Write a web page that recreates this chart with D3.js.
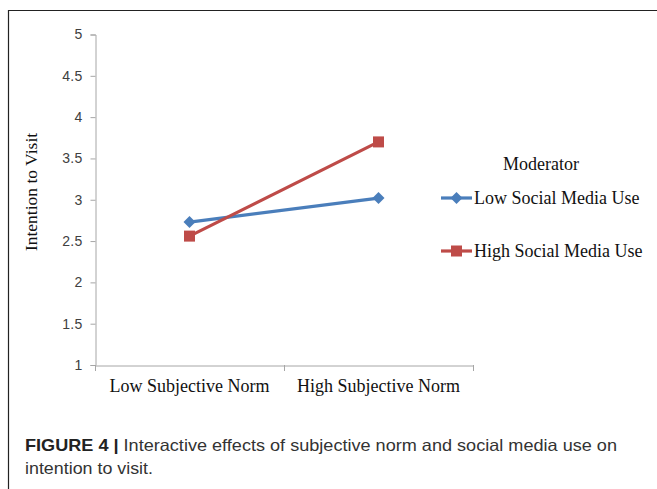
<!DOCTYPE html>
<html><head><meta charset="utf-8">
<script src="https://cdn.jsdelivr.net/npm/d3@7/dist/d3.min.js"></script>
<style>body{margin:0;background:#fff}svg{display:block}</style>
</head><body>
<script>
const categories = ["Low Subjective Norm", "High Subjective Norm"];
const seriesNames = ["Low Social Media Use", "High Social Media Use"];
const lowSMU = [2.73, 3.02];
const highSMU = [2.56, 3.70];
const yTicks = [1, 1.5, 2, 2.5, 3, 3.5, 4, 4.5, 5];
const legendTitle = "Moderator";
const yTitle = "Intention to Visit";
const captionBold = "FIGURE 4 |";
const captionLine1 = " Interactive effects of subjective norm and social media use on";
const captionLine2 = "intention to visit.";

const W = 657, H = 489;
const svg = d3.select("body").append("svg").attr("width", W).attr("height", H);
const serif = "'Liberation Serif', 'Times New Roman', serif";
const sans = "'Liberation Sans', Arial, sans-serif";

// frame (top and left visible)
svg.append("line").attr("x1", 8.5).attr("x2", W).attr("y1", 10.5).attr("y2", 10.5).attr("stroke", "#222").attr("stroke-width", 1.2);
svg.append("line").attr("x1", 8.5).attr("x2", 8.5).attr("y1", 10).attr("y2", H).attr("stroke", "#222").attr("stroke-width", 1.2);

const x = d3.scaleBand().domain(categories).range([95, 473]);
const y = d3.scaleLinear().domain([1, 5]).range([365, 34.5]);

const axisColor = "#a6a6a6";
// y axis
const yAxis = svg.append("g").attr("transform", "translate(95.5,0)")
  .call(d3.axisLeft(y).tickValues(yTicks).tickSize(5).tickFormat(d3.format("")));
yAxis.select(".domain").attr("stroke", axisColor);
yAxis.selectAll(".tick line").attr("stroke", axisColor);
yAxis.selectAll(".tick text").attr("fill", "#404040").attr("font-family", sans)
  .attr("font-size", 14).attr("letter-spacing", 0.3).attr("x", -13);

// x axis
const xAxis = svg.append("g").attr("transform", "translate(0,365.5)")
  .call(d3.axisBottom(x).tickSize(0).tickSizeOuter(0));
xAxis.select(".domain").attr("stroke", axisColor);
xAxis.selectAll(".tick line").remove();
xAxis.selectAll(".tick text").attr("fill", "#111").attr("font-family", serif)
  .attr("font-size", 18).attr("dy", 0).attr("y", 26);
// category boundary ticks
const bounds = [x.range()[0], x(categories[1]), x.range()[1]];
svg.selectAll(".xb").data(bounds).enter().append("line")
  .attr("x1", d => d + 0.5).attr("x2", d => d + 0.5).attr("y1", 365).attr("y2", 371)
  .attr("stroke", axisColor);

// y title
svg.append("text").attr("transform", "translate(37,192) rotate(-90)")
  .attr("text-anchor", "middle").attr("font-family", serif)
  .attr("font-size", 17.5).attr("fill", "#111").text(yTitle);

const colors = ["#4a7ebb", "#be4b48"];
const series = [lowSMU, highSMU];
const line = d3.line().x((d, i) => x(categories[i]) + x.bandwidth() / 2).y(d => y(d));

function marker(g, type, cx, cy, col) {
  if (type === 0) {
    g.append("path").attr("d", `M${cx},${cy - 6}L${cx + 6},${cy}L${cx},${cy + 6}L${cx - 6},${cy}Z`).attr("fill", col);
  } else {
    g.append("rect").attr("x", cx - 5.5).attr("y", cy - 5.5).attr("width", 11).attr("height", 11).attr("fill", col);
  }
}

series.forEach((vals, s) => {
  svg.append("path").datum(vals).attr("d", line).attr("fill", "none")
    .attr("stroke", colors[s]).attr("stroke-width", 3.2);
});
series.forEach((vals, s) => {
  const g = svg.append("g");
  vals.forEach((v, i) => marker(g, s, x(categories[i]) + x.bandwidth() / 2, y(v), colors[s]));
});

// legend
svg.append("text").attr("x", 541).attr("y", 170).attr("text-anchor", "middle")
  .attr("font-family", serif).attr("font-size", 18).attr("fill", "#111").text(legendTitle);
const legY = [198, 251];
seriesNames.forEach((n, s) => {
  const g = svg.append("g");
  g.append("line").attr("x1", 441).attr("x2", 472).attr("y1", legY[s]).attr("y2", legY[s])
    .attr("stroke", colors[s]).attr("stroke-width", 3.2);
  marker(g, s, 456.5, legY[s], colors[s]);
  g.append("text").attr("x", 474).attr("y", legY[s] + 6)
    .attr("font-family", serif).attr("font-size", 18).attr("fill", "#111").text(n);
});

// caption
const cap = svg.append("text").attr("x", 25).attr("y", 451)
  .attr("font-family", sans).attr("font-size", 16.5).attr("fill", "#333")
  .attr("textLength", 592).attr("lengthAdjust", "spacingAndGlyphs");
cap.append("tspan").attr("font-weight", "bold").attr("fill", "#222").text(captionBold);
cap.append("tspan").text(captionLine1);
svg.append("text").attr("x", 25).attr("y", 474)
  .attr("font-family", sans).attr("font-size", 16.5).attr("fill", "#333")
  .attr("textLength", 128).attr("lengthAdjust", "spacingAndGlyphs").text(captionLine2);
</script>
</body></html>
